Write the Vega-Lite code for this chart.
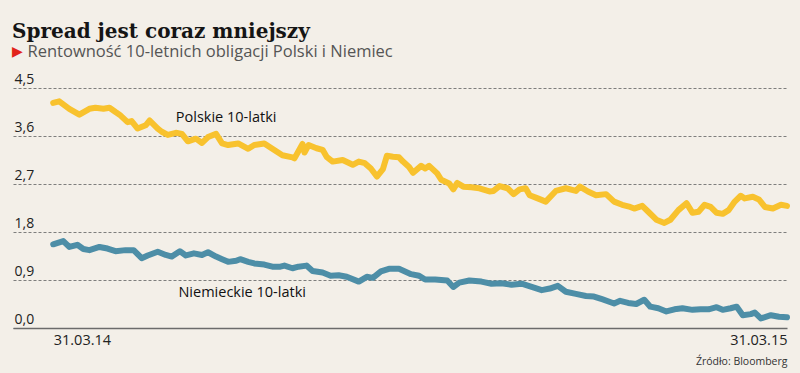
{
  "$schema": "https://vega.github.io/schema/vega-lite/v6.json",
  "width": 774,
  "height": 240,
  "autosize": {"type": "none"},
  "padding": {"left": 13, "top": 88, "right": 13, "bottom": 45},
  "background": "#f3efe8",
  "title": {
    "text": "Spread jest coraz mniejszy",
    "subtitle": "▶",
    "anchor": "start",
    "frame": "group",
    "dx": -1,
    "offset": -16,
    "font": "DejaVu Serif",
    "fontSize": 20,
    "fontWeight": "bold",
    "color": "#151515",
    "subtitleFont": "DejaVu Sans",
    "subtitleFontSize": 14,
    "subtitleColor": "#e2231a",
    "subtitlePadding": 3.5
  },
  "datasets": {
    "rentownosc": [
      {"data": "2014-03-31", "kraj": "Polska", "rentownosc": 4.22},
      {"data": "2014-04-03", "kraj": "Polska", "rentownosc": 4.25},
      {"data": "2014-04-08", "kraj": "Polska", "rentownosc": 4.11},
      {"data": "2014-04-13", "kraj": "Polska", "rentownosc": 4.00},
      {"data": "2014-04-18", "kraj": "Polska", "rentownosc": 4.11},
      {"data": "2014-04-21", "kraj": "Polska", "rentownosc": 4.13},
      {"data": "2014-04-25", "kraj": "Polska", "rentownosc": 4.11},
      {"data": "2014-04-28", "kraj": "Polska", "rentownosc": 4.13},
      {"data": "2014-05-01", "kraj": "Polska", "rentownosc": 4.05},
      {"data": "2014-05-03", "kraj": "Polska", "rentownosc": 4.00},
      {"data": "2014-05-07", "kraj": "Polska", "rentownosc": 3.86},
      {"data": "2014-05-09", "kraj": "Polska", "rentownosc": 3.88},
      {"data": "2014-05-12", "kraj": "Polska", "rentownosc": 3.74},
      {"data": "2014-05-16", "kraj": "Polska", "rentownosc": 3.80},
      {"data": "2014-05-18", "kraj": "Polska", "rentownosc": 3.89},
      {"data": "2014-05-22", "kraj": "Polska", "rentownosc": 3.74},
      {"data": "2014-05-24", "kraj": "Polska", "rentownosc": 3.68},
      {"data": "2014-05-27", "kraj": "Polska", "rentownosc": 3.62},
      {"data": "2014-05-31", "kraj": "Polska", "rentownosc": 3.66},
      {"data": "2014-06-03", "kraj": "Polska", "rentownosc": 3.64},
      {"data": "2014-06-06", "kraj": "Polska", "rentownosc": 3.50},
      {"data": "2014-06-10", "kraj": "Polska", "rentownosc": 3.55},
      {"data": "2014-06-13", "kraj": "Polska", "rentownosc": 3.47},
      {"data": "2014-06-16", "kraj": "Polska", "rentownosc": 3.58},
      {"data": "2014-06-20", "kraj": "Polska", "rentownosc": 3.64},
      {"data": "2014-06-23", "kraj": "Polska", "rentownosc": 3.46},
      {"data": "2014-06-26", "kraj": "Polska", "rentownosc": 3.43},
      {"data": "2014-07-01", "kraj": "Polska", "rentownosc": 3.46},
      {"data": "2014-07-06", "kraj": "Polska", "rentownosc": 3.36},
      {"data": "2014-07-09", "kraj": "Polska", "rentownosc": 3.43},
      {"data": "2014-07-14", "kraj": "Polska", "rentownosc": 3.46},
      {"data": "2014-07-18", "kraj": "Polska", "rentownosc": 3.36},
      {"data": "2014-07-23", "kraj": "Polska", "rentownosc": 3.24},
      {"data": "2014-07-28", "kraj": "Polska", "rentownosc": 3.20},
      {"data": "2014-07-29", "kraj": "Polska", "rentownosc": 3.18},
      {"data": "2014-08-02", "kraj": "Polska", "rentownosc": 3.45},
      {"data": "2014-08-03", "kraj": "Polska", "rentownosc": 3.29},
      {"data": "2014-08-05", "kraj": "Polska", "rentownosc": 3.43},
      {"data": "2014-08-09", "kraj": "Polska", "rentownosc": 3.37},
      {"data": "2014-08-12", "kraj": "Polska", "rentownosc": 3.34},
      {"data": "2014-08-14", "kraj": "Polska", "rentownosc": 3.21},
      {"data": "2014-08-17", "kraj": "Polska", "rentownosc": 3.12},
      {"data": "2014-08-22", "kraj": "Polska", "rentownosc": 3.15},
      {"data": "2014-08-27", "kraj": "Polska", "rentownosc": 3.06},
      {"data": "2014-08-30", "kraj": "Polska", "rentownosc": 3.12},
      {"data": "2014-09-02", "kraj": "Polska", "rentownosc": 3.09},
      {"data": "2014-09-05", "kraj": "Polska", "rentownosc": 2.99},
      {"data": "2014-09-08", "kraj": "Polska", "rentownosc": 2.84},
      {"data": "2014-09-11", "kraj": "Polska", "rentownosc": 2.98},
      {"data": "2014-09-13", "kraj": "Polska", "rentownosc": 3.23},
      {"data": "2014-09-16", "kraj": "Polska", "rentownosc": 3.21},
      {"data": "2014-09-19", "kraj": "Polska", "rentownosc": 3.20},
      {"data": "2014-09-21", "kraj": "Polska", "rentownosc": 3.12},
      {"data": "2014-09-24", "kraj": "Polska", "rentownosc": 3.02},
      {"data": "2014-09-26", "kraj": "Polska", "rentownosc": 2.91},
      {"data": "2014-09-30", "kraj": "Polska", "rentownosc": 3.04},
      {"data": "2014-10-02", "kraj": "Polska", "rentownosc": 2.99},
      {"data": "2014-10-04", "kraj": "Polska", "rentownosc": 3.04},
      {"data": "2014-10-08", "kraj": "Polska", "rentownosc": 2.90},
      {"data": "2014-10-10", "kraj": "Polska", "rentownosc": 2.78},
      {"data": "2014-10-14", "kraj": "Polska", "rentownosc": 2.71},
      {"data": "2014-10-16", "kraj": "Polska", "rentownosc": 2.60},
      {"data": "2014-10-18", "kraj": "Polska", "rentownosc": 2.72},
      {"data": "2014-10-21", "kraj": "Polska", "rentownosc": 2.65},
      {"data": "2014-10-25", "kraj": "Polska", "rentownosc": 2.64},
      {"data": "2014-10-29", "kraj": "Polska", "rentownosc": 2.62},
      {"data": "2014-11-03", "kraj": "Polska", "rentownosc": 2.56},
      {"data": "2014-11-05", "kraj": "Polska", "rentownosc": 2.57},
      {"data": "2014-11-08", "kraj": "Polska", "rentownosc": 2.66},
      {"data": "2014-11-12", "kraj": "Polska", "rentownosc": 2.62},
      {"data": "2014-11-15", "kraj": "Polska", "rentownosc": 2.51},
      {"data": "2014-11-18", "kraj": "Polska", "rentownosc": 2.60},
      {"data": "2014-11-21", "kraj": "Polska", "rentownosc": 2.62},
      {"data": "2014-11-23", "kraj": "Polska", "rentownosc": 2.49},
      {"data": "2014-11-27", "kraj": "Polska", "rentownosc": 2.43},
      {"data": "2014-12-01", "kraj": "Polska", "rentownosc": 2.37},
      {"data": "2014-12-06", "kraj": "Polska", "rentownosc": 2.57},
      {"data": "2014-12-11", "kraj": "Polska", "rentownosc": 2.62},
      {"data": "2014-12-16", "kraj": "Polska", "rentownosc": 2.57},
      {"data": "2014-12-18", "kraj": "Polska", "rentownosc": 2.65},
      {"data": "2014-12-22", "kraj": "Polska", "rentownosc": 2.56},
      {"data": "2014-12-26", "kraj": "Polska", "rentownosc": 2.49},
      {"data": "2014-12-31", "kraj": "Polska", "rentownosc": 2.51},
      {"data": "2015-01-04", "kraj": "Polska", "rentownosc": 2.37},
      {"data": "2015-01-08", "kraj": "Polska", "rentownosc": 2.31},
      {"data": "2015-01-12", "kraj": "Polska", "rentownosc": 2.27},
      {"data": "2015-01-14", "kraj": "Polska", "rentownosc": 2.24},
      {"data": "2015-01-18", "kraj": "Polska", "rentownosc": 2.29},
      {"data": "2015-01-21", "kraj": "Polska", "rentownosc": 2.18},
      {"data": "2015-01-25", "kraj": "Polska", "rentownosc": 2.03},
      {"data": "2015-01-29", "kraj": "Polska", "rentownosc": 1.97},
      {"data": "2015-02-01", "kraj": "Polska", "rentownosc": 2.03},
      {"data": "2015-02-05", "kraj": "Polska", "rentownosc": 2.21},
      {"data": "2015-02-09", "kraj": "Polska", "rentownosc": 2.34},
      {"data": "2015-02-12", "kraj": "Polska", "rentownosc": 2.16},
      {"data": "2015-02-15", "kraj": "Polska", "rentownosc": 2.18},
      {"data": "2015-02-18", "kraj": "Polska", "rentownosc": 2.31},
      {"data": "2015-02-21", "kraj": "Polska", "rentownosc": 2.27},
      {"data": "2015-02-24", "kraj": "Polska", "rentownosc": 2.16},
      {"data": "2015-02-27", "kraj": "Polska", "rentownosc": 2.14},
      {"data": "2015-03-02", "kraj": "Polska", "rentownosc": 2.21},
      {"data": "2015-03-05", "kraj": "Polska", "rentownosc": 2.37},
      {"data": "2015-03-08", "kraj": "Polska", "rentownosc": 2.48},
      {"data": "2015-03-10", "kraj": "Polska", "rentownosc": 2.43},
      {"data": "2015-03-14", "kraj": "Polska", "rentownosc": 2.46},
      {"data": "2015-03-17", "kraj": "Polska", "rentownosc": 2.41},
      {"data": "2015-03-20", "kraj": "Polska", "rentownosc": 2.27},
      {"data": "2015-03-24", "kraj": "Polska", "rentownosc": 2.24},
      {"data": "2015-03-28", "kraj": "Polska", "rentownosc": 2.31},
      {"data": "2015-03-31", "kraj": "Polska", "rentownosc": 2.29},
      {"data": "2014-03-31", "kraj": "Niemcy", "rentownosc": 1.57},
      {"data": "2014-04-05", "kraj": "Niemcy", "rentownosc": 1.63},
      {"data": "2014-04-08", "kraj": "Niemcy", "rentownosc": 1.52},
      {"data": "2014-04-12", "kraj": "Niemcy", "rentownosc": 1.56},
      {"data": "2014-04-15", "kraj": "Niemcy", "rentownosc": 1.48},
      {"data": "2014-04-18", "kraj": "Niemcy", "rentownosc": 1.46},
      {"data": "2014-04-23", "kraj": "Niemcy", "rentownosc": 1.52},
      {"data": "2014-04-27", "kraj": "Niemcy", "rentownosc": 1.49},
      {"data": "2014-05-01", "kraj": "Niemcy", "rentownosc": 1.44},
      {"data": "2014-05-06", "kraj": "Niemcy", "rentownosc": 1.46},
      {"data": "2014-05-10", "kraj": "Niemcy", "rentownosc": 1.46},
      {"data": "2014-05-14", "kraj": "Niemcy", "rentownosc": 1.31},
      {"data": "2014-05-17", "kraj": "Niemcy", "rentownosc": 1.36},
      {"data": "2014-05-22", "kraj": "Niemcy", "rentownosc": 1.43},
      {"data": "2014-05-26", "kraj": "Niemcy", "rentownosc": 1.37},
      {"data": "2014-05-29", "kraj": "Niemcy", "rentownosc": 1.34},
      {"data": "2014-06-02", "kraj": "Niemcy", "rentownosc": 1.44},
      {"data": "2014-06-05", "kraj": "Niemcy", "rentownosc": 1.36},
      {"data": "2014-06-09", "kraj": "Niemcy", "rentownosc": 1.40},
      {"data": "2014-06-13", "kraj": "Niemcy", "rentownosc": 1.37},
      {"data": "2014-06-16", "kraj": "Niemcy", "rentownosc": 1.42},
      {"data": "2014-06-20", "kraj": "Niemcy", "rentownosc": 1.34},
      {"data": "2014-06-23", "kraj": "Niemcy", "rentownosc": 1.29},
      {"data": "2014-06-26", "kraj": "Niemcy", "rentownosc": 1.24},
      {"data": "2014-06-30", "kraj": "Niemcy", "rentownosc": 1.26},
      {"data": "2014-07-02", "kraj": "Niemcy", "rentownosc": 1.29},
      {"data": "2014-07-06", "kraj": "Niemcy", "rentownosc": 1.24},
      {"data": "2014-07-09", "kraj": "Niemcy", "rentownosc": 1.21},
      {"data": "2014-07-14", "kraj": "Niemcy", "rentownosc": 1.19},
      {"data": "2014-07-18", "kraj": "Niemcy", "rentownosc": 1.15},
      {"data": "2014-07-22", "kraj": "Niemcy", "rentownosc": 1.15},
      {"data": "2014-07-24", "kraj": "Niemcy", "rentownosc": 1.17},
      {"data": "2014-07-28", "kraj": "Niemcy", "rentownosc": 1.12},
      {"data": "2014-07-31", "kraj": "Niemcy", "rentownosc": 1.15},
      {"data": "2014-08-04", "kraj": "Niemcy", "rentownosc": 1.17},
      {"data": "2014-08-07", "kraj": "Niemcy", "rentownosc": 1.07},
      {"data": "2014-08-12", "kraj": "Niemcy", "rentownosc": 1.04},
      {"data": "2014-08-16", "kraj": "Niemcy", "rentownosc": 0.98},
      {"data": "2014-08-20", "kraj": "Niemcy", "rentownosc": 0.99},
      {"data": "2014-08-24", "kraj": "Niemcy", "rentownosc": 0.96},
      {"data": "2014-08-30", "kraj": "Niemcy", "rentownosc": 0.87},
      {"data": "2014-09-03", "kraj": "Niemcy", "rentownosc": 0.96},
      {"data": "2014-09-06", "kraj": "Niemcy", "rentownosc": 0.94},
      {"data": "2014-09-10", "kraj": "Niemcy", "rentownosc": 1.06},
      {"data": "2014-09-14", "kraj": "Niemcy", "rentownosc": 1.11},
      {"data": "2014-09-19", "kraj": "Niemcy", "rentownosc": 1.11},
      {"data": "2014-09-22", "kraj": "Niemcy", "rentownosc": 1.06},
      {"data": "2014-09-25", "kraj": "Niemcy", "rentownosc": 1.01},
      {"data": "2014-09-29", "kraj": "Niemcy", "rentownosc": 0.98},
      {"data": "2014-10-02", "kraj": "Niemcy", "rentownosc": 0.91},
      {"data": "2014-10-07", "kraj": "Niemcy", "rentownosc": 0.91},
      {"data": "2014-10-13", "kraj": "Niemcy", "rentownosc": 0.89},
      {"data": "2014-10-16", "kraj": "Niemcy", "rentownosc": 0.77},
      {"data": "2014-10-19", "kraj": "Niemcy", "rentownosc": 0.85},
      {"data": "2014-10-24", "kraj": "Niemcy", "rentownosc": 0.89},
      {"data": "2014-10-30", "kraj": "Niemcy", "rentownosc": 0.87},
      {"data": "2014-11-04", "kraj": "Niemcy", "rentownosc": 0.83},
      {"data": "2014-11-09", "kraj": "Niemcy", "rentownosc": 0.84},
      {"data": "2014-11-14", "kraj": "Niemcy", "rentownosc": 0.81},
      {"data": "2014-11-19", "kraj": "Niemcy", "rentownosc": 0.83},
      {"data": "2014-11-24", "kraj": "Niemcy", "rentownosc": 0.77},
      {"data": "2014-11-29", "kraj": "Niemcy", "rentownosc": 0.71},
      {"data": "2014-12-03", "kraj": "Niemcy", "rentownosc": 0.74},
      {"data": "2014-12-07", "kraj": "Niemcy", "rentownosc": 0.79},
      {"data": "2014-12-11", "kraj": "Niemcy", "rentownosc": 0.68},
      {"data": "2014-12-16", "kraj": "Niemcy", "rentownosc": 0.64},
      {"data": "2014-12-21", "kraj": "Niemcy", "rentownosc": 0.60},
      {"data": "2014-12-25", "kraj": "Niemcy", "rentownosc": 0.59},
      {"data": "2014-12-29", "kraj": "Niemcy", "rentownosc": 0.54},
      {"data": "2015-01-04", "kraj": "Niemcy", "rentownosc": 0.46},
      {"data": "2015-01-07", "kraj": "Niemcy", "rentownosc": 0.51},
      {"data": "2015-01-11", "kraj": "Niemcy", "rentownosc": 0.47},
      {"data": "2015-01-15", "kraj": "Niemcy", "rentownosc": 0.45},
      {"data": "2015-01-19", "kraj": "Niemcy", "rentownosc": 0.53},
      {"data": "2015-01-22", "kraj": "Niemcy", "rentownosc": 0.40},
      {"data": "2015-01-26", "kraj": "Niemcy", "rentownosc": 0.37},
      {"data": "2015-01-30", "kraj": "Niemcy", "rentownosc": 0.31},
      {"data": "2015-02-03", "kraj": "Niemcy", "rentownosc": 0.35},
      {"data": "2015-02-07", "kraj": "Niemcy", "rentownosc": 0.37},
      {"data": "2015-02-12", "kraj": "Niemcy", "rentownosc": 0.34},
      {"data": "2015-02-16", "kraj": "Niemcy", "rentownosc": 0.35},
      {"data": "2015-02-20", "kraj": "Niemcy", "rentownosc": 0.35},
      {"data": "2015-02-24", "kraj": "Niemcy", "rentownosc": 0.39},
      {"data": "2015-02-27", "kraj": "Niemcy", "rentownosc": 0.34},
      {"data": "2015-03-03", "kraj": "Niemcy", "rentownosc": 0.37},
      {"data": "2015-03-06", "kraj": "Niemcy", "rentownosc": 0.40},
      {"data": "2015-03-09", "kraj": "Niemcy", "rentownosc": 0.24},
      {"data": "2015-03-13", "kraj": "Niemcy", "rentownosc": 0.26},
      {"data": "2015-03-15", "kraj": "Niemcy", "rentownosc": 0.29},
      {"data": "2015-03-18", "kraj": "Niemcy", "rentownosc": 0.18},
      {"data": "2015-03-23", "kraj": "Niemcy", "rentownosc": 0.24},
      {"data": "2015-03-27", "kraj": "Niemcy", "rentownosc": 0.21},
      {"data": "2015-03-31", "kraj": "Niemcy", "rentownosc": 0.20}
    ],
    "etykiety": [
      {"data": "2014-06-25", "rentownosc": 3.87, "tekst": "Polskie 10-latki"},
      {"data": "2014-07-03", "rentownosc": 0.58, "tekst": "Niemieckie 10-latki"}
    ]
  },
  "layer": [
    {
      "data": {"name": "rentownosc"},
      "mark": {"type": "line", "strokeWidth": 6, "strokeCap": "round", "strokeJoin": "round"},
      "encoding": {
        "x": {
          "field": "data",
          "type": "temporal",
          "scale": {"domain": [{"year": 2014, "month": 3, "date": 11, "utc": true}, {"year": 2015, "month": 3, "date": 31, "utc": true}]},
          "axis": {
            "values": [{"year": 2014, "month": 3, "date": 31, "utc": true}, {"year": 2015, "month": 3, "date": 31, "utc": true}],
            "labelExpr": "utcFormat(datum.value, '%d.%m.%y')",
            "labelFlush": 45,
            "labelBaseline": "alphabetic",
            "labelPadding": 16,
            "labelFont": "Open Sans",
            "labelFontSize": 14.5,
            "labelColor": "#222222",
            "ticks": false,
            "tickSize": 0,
            "grid": false,
            "domain": true,
            "domainColor": "#6b6b6b",
            "domainWidth": 1.5,
            "title": "Źródło: Bloomberg",
            "titleFont": "Open Sans",
            "titleFontSize": 10.5,
            "titleFontWeight": "normal",
            "titleColor": "#333333",
            "titleAlign": "right",
            "titleAnchor": "end",
            "titleBaseline": "alphabetic",
            "titleX": 774,
            "titleY": 36
          }
        },
        "y": {
          "field": "rentownosc",
          "type": "quantitative",
          "scale": {"domain": [0, 4.5], "nice": false},
          "axis": {
            "values": [0, 0.9, 1.8, 2.7, 3.6, 4.5],
            "labelExpr": "replace(format(datum.value, '.1f'), '.', ',')",
            "labelAlign": "left",
            "labelBaseline": "alphabetic",
            "labelPadding": -1,
            "labelOffset": -5,
            "labelFont": "Open Sans",
            "labelFontSize": 14,
            "labelColor": "#222222",
            "ticks": false,
            "tickSize": 0,
            "domain": false,
            "grid": true,
            "gridColor": "#707070",
            "gridDash": [3, 2],
            "gridWidth": 0.9,
            "title": "Rentowność 10-letnich obligacji Polski i Niemiec",
            "titleAngle": 0,
            "titleAlign": "left",
            "titleBaseline": "alphabetic",
            "titleX": 14,
            "titleY": -32,
            "titleFont": "Open Sans",
            "titleFontSize": 16.5,
            "titleFontWeight": "normal",
            "titleColor": "#555555"
          }
        },
        "color": {
          "field": "kraj",
          "type": "nominal",
          "scale": {"domain": ["Polska", "Niemcy"], "range": ["#f8c22e", "#4d8ea7"]},
          "legend": null
        }
      }
    },
    {
      "data": {"name": "etykiety"},
      "mark": {"type": "text", "align": "center", "baseline": "alphabetic", "font": "Open Sans", "fontSize": 14.5, "color": "#111111"},
      "encoding": {
        "x": {"field": "data", "type": "temporal"},
        "y": {"field": "rentownosc", "type": "quantitative"},
        "text": {"field": "tekst"}
      }
    }
  ],
  "config": {
    "view": {"stroke": null}
  }
}
